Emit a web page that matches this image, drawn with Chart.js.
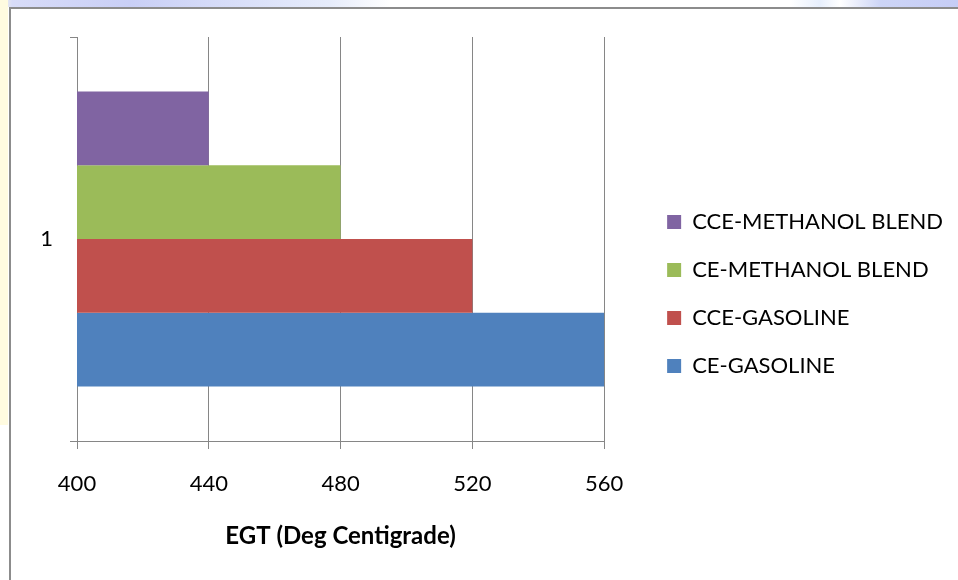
<!DOCTYPE html>
<html>
<head>
<meta charset="utf-8">
<script src="https://cdn.jsdelivr.net/npm/chart.js@4.4.1/dist/chart.umd.min.js"></script>
<style>
  html, body { margin: 0; padding: 0; background: #fff; }
  #page { position: relative; width: 958px; height: 580px; overflow: hidden; }
  #topstrip { position: absolute; left: 0; top: 0; width: 958px; height: 7px;
    background: linear-gradient(90deg, #fffbe0 0px, #d8dcf8 12px, #c9cff6 130px, #e6ecfb 330px, #fff 390px, #fff 1150px); }
  #topstrip2 { position: absolute; left: 400px; top: 0; width: 558px; height: 7px;
    background: linear-gradient(90deg, #fff 0px, #fff 390px, #e7effd 420px, #fff 440px, #cdd5f7 480px, #c6cdf6 558px); }
  #leftstrip { position: absolute; left: 0; top: 0; width: 8px; height: 425px; background: #fffbe0; }
  #frame { position: absolute; left: 9px; top: 7px; width: 960px; height: 590px;
    border-left: 2px solid #8c8c8c; border-top: 2px solid #8c8c8c; box-sizing: border-box; }
  #wrap { position: absolute; left: 0; top: 0; width: 958px; height: 580px; }
</style>
</head>
<body>
<div id="page">
  <div id="topstrip"></div>
  <div id="topstrip2"></div>
  <div id="leftstrip"></div>
  <div id="frame"></div>
  <div id="wrap"><canvas id="chart" width="958" height="580"></canvas></div>
</div>
<script>
// EGT chart data
var categories = ["1"];
var seriesNames = ["CCE-METHANOL BLEND", "CE-METHANOL BLEND", "CCE-GASOLINE", "CE-GASOLINE"];
var cceMethanol = [440];
var ceMethanol = [480];
var cceGasoline = [520];
var ceGasoline = [560];
var xTicks = [400, 440, 480, 520, 560];
var colors = ["#8064A2", "#9BBB59", "#C0504D", "#4F81BD"];

var fontFam = "Lato, 'Open Sans', sans-serif";
var seriesData = [cceMethanol, ceMethanol, cceGasoline, ceGasoline];

var datasets = [];
for (var i = 0; i < seriesNames.length; i++) {
  datasets.push({
    label: seriesNames[i],
    data: seriesData[i],
    backgroundColor: colors[i],
    borderWidth: 0,
    barPercentage: 1.0,
    categoryPercentage: 0.73
  });
}

var chart = new Chart(document.getElementById("chart"), {
  type: 'bar',
  data: {
    labels: categories,
    datasets: datasets
  },
  options: {
    responsive: false,
    animation: false,
    indexAxis: 'y',
    layout: { padding: { top: 37, left: 10, right: 5, bottom: 29 } },
    plugins: {
      tooltip: { enabled: false },
      legend: {
        position: 'right',
        align: 'center',
        maxWidth: 400,
        labels: {
          boxWidth: 14,
          boxHeight: 14,
          padding: 26,
          color: '#000',
          font: { family: fontFam, size: 22 }
        }
      }
    },
    scales: {
      x: {
        min: xTicks[0],
        max: xTicks[xTicks.length - 1],
        afterBuildTicks: function(scale) {
          scale.ticks = xTicks.map(function(v) { return { value: v }; });
        },
        afterFit: function(scale) { scale.height = 110; },
        grid: { color: '#868686', lineWidth: 1, tickLength: 8, drawTicks: true },
        border: { color: '#868686', width: 1 },
        ticks: { color: '#000', padding: 22, font: { family: fontFam, size: 22 } },
        title: {
          display: true,
          text: 'EGT (Deg Centigrade)',
          color: '#000',
          font: { family: fontFam, size: 24, weight: 'bold' },
          padding: 0
        }
      },
      y: {
        afterFit: function(scale) { scale.width = 67; },
        grid: { drawOnChartArea: false, color: '#868686', tickLength: 7, offset: true },
        border: { color: '#868686', width: 1 },
        ticks: { color: '#000', padding: 17, font: { family: fontFam, size: 22 } }
      },
      // empty spacer between the plot and the legend
      gap: {
        type: 'category',
        labels: [''],
        position: 'right',
        afterFit: function(scale) { scale.width = 37; },
        grid: { display: false },
        border: { display: false },
        ticks: { display: false }
      }
    }
  }
});

// re-measure once the local fonts are ready
document.fonts.load("22px Lato").then(function() {
  return document.fonts.load("bold 24px Lato");
}).then(function() {
  chart.update();
});
</script>
</body>
</html>
